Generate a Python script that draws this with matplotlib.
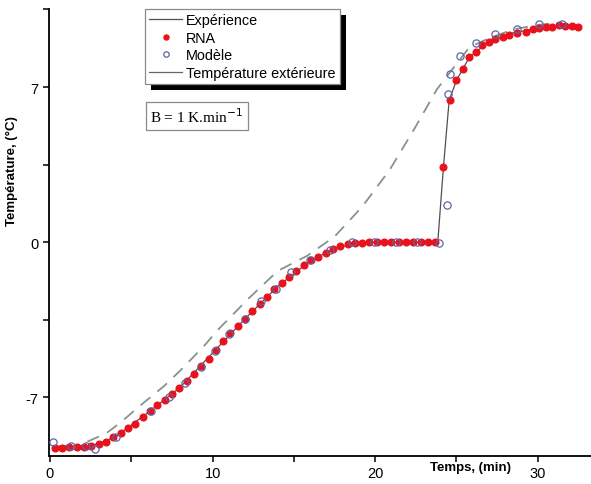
import numpy as np
import matplotlib.pyplot as plt
from matplotlib.patches import Rectangle
from matplotlib.lines import Line2D
from matplotlib.transforms import IdentityTransform

plt.rcParams['font.family'] = ['Liberation Sans', 'DejaVu Sans']
plt.rcParams['axes.unicode_minus'] = False

# RNA (red dots)
t_rna = [0.3, 0.75, 1.2, 1.65, 2.1, 2.55, 3.0, 3.45, 3.9, 4.35, 4.8, 5.25, 5.7, 6.15,
         6.6, 7.05, 7.5, 7.95, 8.4, 8.85, 9.3, 9.75, 10.2, 10.65, 11.1, 11.55, 12.0,
         12.45, 12.9, 13.35, 13.8, 14.25, 14.7, 15.15, 15.6, 16.05, 16.5, 16.95, 17.4,
         17.85, 18.3, 18.75, 19.2, 19.65, 20.1, 20.55, 21.0, 21.45, 21.9, 22.35, 22.8,
         23.25, 23.7, 24.2, 24.6, 25.0, 25.4, 25.8, 26.2, 26.6, 27.0, 27.4, 27.85, 28.2,
         28.7, 29.3, 29.7, 30.1, 30.5, 30.9, 31.3, 31.7, 32.1, 32.5]
T_rna = [-9.3, -9.3, -9.25, -9.25, -9.25, -9.2, -9.1, -9.0, -8.8, -8.62, -8.4, -8.18,
         -7.9, -7.6, -7.35, -7.1, -6.85, -6.58, -6.28, -5.95, -5.6, -5.25, -4.85, -4.45,
         -4.1, -3.78, -3.45, -3.12, -2.8, -2.45, -2.12, -1.83, -1.55, -1.28, -1.03, -0.82,
         -0.65, -0.47, -0.3, -0.18, -0.1, -0.05, -0.02, 0.0, 0.0, 0.0, 0.0, 0.0, 0.0, 0.0,
         0.0, 0.0, 0.0, 3.4, 6.4, 7.3, 7.8, 8.35, 8.6, 8.9, 9.05, 9.15, 9.26, 9.36, 9.45,
         9.5, 9.6, 9.64, 9.7, 9.7, 9.8, 9.76, 9.74, 9.72]

# Modèle (open circles)
t_mod = [0.2, 1.3, 2.2, 2.75, 4.07, 6.2, 7.3, 8.3, 9.3, 10.15, 11.0, 12.0, 13.0, 13.9,
         14.8, 16.0, 17.2, 18.6, 19.9, 21.3, 22.6, 23.9, 24.4, 24.5, 24.6, 25.2, 26.2,
         27.4, 28.7, 30.1, 31.5]
T_mod = [-9.0, -9.2, -9.2, -9.35, -8.8, -7.6, -7.0, -6.35, -5.64, -4.9, -4.15, -3.46,
         -2.64, -2.1, -1.36, -0.82, -0.36, 0.0, 0.0, 0.0, 0.0, -0.05, 1.7, 6.7, 7.6, 8.4,
         9.0, 9.4, 9.6, 9.83, 9.86]

# Expérience (thin solid line)
t_exp = [0.2, 2.5, 4.0, 6.0, 8.0, 10.0, 12.0, 14.0, 16.0, 17.5, 19.0, 20.0, 23.85,
         24.2, 24.55, 25.0, 25.8, 27.0, 28.5, 30.0, 31.5, 32.3]
T_exp = [-9.2, -9.2, -8.8, -7.7, -6.55, -5.0, -3.45, -2.0, -0.85, -0.28, -0.02, 0.0, 0.0,
         3.4, 6.4, 7.3, 8.35, 9.05, 9.45, 9.64, 9.8, 9.75]

# Température extérieure (dashed)
t_ext = [2.3, 3.5, 4.4, 5.5, 7.0, 8.0, 9.45, 10.4, 12.2, 14.0, 15.8, 17.5, 19.2, 20.9,
         22.4, 23.8, 25.8, 27.0, 28.5, 30.0, 31.5]
T_ext = [-9.0, -8.6, -8.1, -7.4, -6.5, -5.8, -4.7, -3.9, -2.55, -1.3, -0.62, 0.25, 1.6,
         3.27, 5.1, 6.9, 8.8, 9.2, 9.6, 9.8, 9.9]

fig = plt.figure(figsize=(5.91, 4.85), dpi=100)
ax = fig.add_axes([0.0829, 0.0584, 0.917, 0.921])

l_exp, = ax.plot(t_exp, T_exp, '-', color='#505050', lw=0.9, zorder=2)
l_rna, = ax.plot(t_rna, T_rna, 'o', color='#e8121c', ms=4.8, mec='#e8121c', zorder=3)
l_mod, = ax.plot(t_mod, T_mod, 'o', mfc='none', mec='#5a66a8', mew=0.9, ms=5.2, zorder=4)
ax.plot(t_ext, T_ext, '--', color='#84948f', lw=1.3, dashes=(7, 5), zorder=2)

ax.set_xlim(-0.06, 33.27)
ax.set_ylim(-9.63, 10.52)

ax.set_xticks([0, 10, 20, 30])
ax.set_xticks([5, 15, 25], minor=True)
ax.set_yticks([-7, 0, 7])
ax.set_yticks([-3.5, 3.5, 10.5], minor=True)
ax.tick_params(which='both', direction='out', length=4, width=1.1, labelsize=10.5)

for s in ['top', 'right']:
    ax.spines[s].set_visible(False)
for s in ['left', 'bottom']:
    ax.spines[s].set_linewidth(1.3)

ax.set_xlabel('Temps, (min)', fontweight='bold', fontsize=9.5)
ax.xaxis.set_label_coords(0.777, -0.013)
ax.set_ylabel('Température, (°C)', fontweight='bold', fontsize=9.5)
ax.yaxis.set_label_coords(-0.058, 0.64)

# legend with drop shadow; the outside-temperature handle is a plain line
h_ext = Line2D([], [], color='#5a6a66', lw=0.9)
leg = ax.legend([l_exp, l_rna, l_mod, h_ext],
                ['Expérience', 'RNA', 'Modèle', 'Température extérieure'],
                loc='upper left', bbox_to_anchor=(0.177, 1.0), borderaxespad=0,
                fontsize=10.4, handlelength=2.3, labelspacing=0.24, handletextpad=0.25,
                borderpad=0.3, fancybox=False, framealpha=1, edgecolor='#8a8a8a',
                markerscale=0.75)
leg.get_frame().set_linewidth(0.9)
leg.set_zorder(10)

ax.text(0.273, 0.761, 'B = 1 K.min$^{-1}$', transform=ax.transAxes, fontsize=11,
        family='Liberation Serif', ha='center', va='center',
        bbox=dict(boxstyle='square,pad=0.3', fc='white', ec='#8a8a8a', lw=0.9))

fig.canvas.draw()
bb = leg.get_window_extent()
shadow = Rectangle((bb.x0 + 6, bb.y0 - 6), bb.width, bb.height, transform=IdentityTransform(),
                   fc='black', ec='none', zorder=9, clip_on=False)
ax.add_artist(shadow)

fig.savefig('out.png', dpi=100)
